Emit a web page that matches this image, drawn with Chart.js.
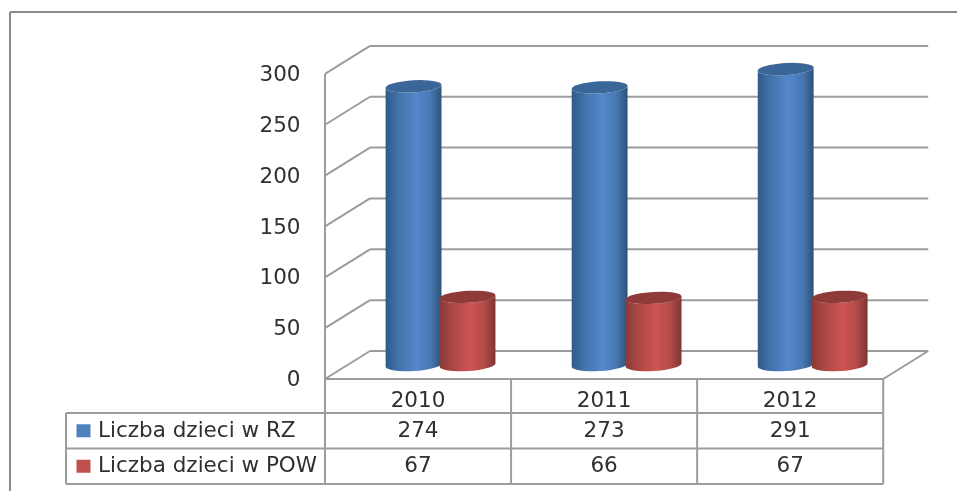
<!DOCTYPE html>
<html lang="pl">
<head>
  <meta charset="UTF-8" />
  <title>Liczba dzieci</title>
  <script src="https://cdn.jsdelivr.net/npm/chart.js"></script>
  <style>
    html, body { margin: 0; padding: 0; background: #fff; overflow: hidden; }
    #wrap { position: relative; width: 957px; height: 491px; }
    canvas { filter: blur(0.6px); }
  </style>
</head>
<body>
  <div id="wrap"><canvas id="wykres" width="957" height="491"></canvas></div>
  <script>
    const years = ['2010', '2011', '2012'];
    const seriesNames = ['Liczba dzieci w RZ', 'Liczba dzieci w POW'];
    const rzValues = [274, 273, 291];
    const powValues = [67, 66, 67];
    const yTicks = [0, 50, 100, 150, 200, 250, 300];

    const blue = { swatch: '#4f81bd', top: '#3b6798', stops: ['#2f5a8a', '#4475ac', '#5487cc', '#4878b2', '#2c5278'] };
    const red = { swatch: '#c0504d', top: '#8e3a38', stops: ['#8a3a38', '#ad4946', '#cd5451', '#b34b48', '#7f3533'] };
    const looks = [blue, red];

    // half of the depth of the 3d box, the scales sit in the middle of it
    const depthX = 22.5;
    const depthY = 14;
    const lineCol = '#9c9c9c';
    const textCol = '#303030';
    const fontSize = 21.5;
    const font = fontSize + 'px "DejaVu Sans"';
    const tableLeft = 66;
    const rowLines = [413, 448.5, 484];

    function line(ctx, x1, y1, x2, y2) {
      ctx.beginPath();
      ctx.moveTo(x1, y1);
      ctx.lineTo(x2, y2);
      ctx.stroke();
    }

    const box3d = {
      id: 'box3d',
      beforeDatasetsDraw(chart) {
        const { ctx, chartArea, scales } = chart;
        const left = chartArea.left - depthX;
        const right = chartArea.right - depthX;
        ctx.save();
        ctx.strokeStyle = lineCol;
        ctx.lineWidth = 2;
        scales.y.ticks.forEach(t => {
          const p = scales.y.getPixelForValue(t.value);
          line(ctx, left, p + depthY, left + 2 * depthX, p - depthY);
          line(ctx, left + 2 * depthX, p - depthY, right + 2 * depthX, p - depthY);
        });
        const p0 = scales.y.getPixelForValue(0);
        line(ctx, right, p0 + depthY, right + 2 * depthX, p0 - depthY);
        ctx.restore();
      }
    };

    function cylinder(ctx, bar, look) {
      const rx = bar.width / 2 + 1;
      const ry = 6;
      const tilt = -0.06;
      const g = ctx.createLinearGradient(bar.x - rx, 0, bar.x + rx, 0);
      [0, 0.25, 0.55, 0.8, 1].forEach((s, i) => g.addColorStop(s, look.stops[i]));
      ctx.fillStyle = g;
      ctx.beginPath();
      ctx.ellipse(bar.x, bar.y, rx, ry, tilt, Math.PI, 0, true);
      ctx.ellipse(bar.x, bar.base, rx, ry, tilt, 0, Math.PI, false);
      ctx.closePath();
      ctx.fill();
      ctx.fillStyle = look.top;
      ctx.beginPath();
      ctx.ellipse(bar.x, bar.y, rx, ry, tilt, 0, Math.PI * 2);
      ctx.fill();
    }

    const cylinders = {
      id: 'cylinders',
      afterDatasetsDraw(chart) {
        const { ctx } = chart;
        chart.data.datasets.forEach((ds, i) => {
          chart.getDatasetMeta(i).data.forEach(bar => {
            cylinder(ctx, bar.getProps(['x', 'y', 'base', 'width'], true), looks[i]);
          });
        });
      }
    };

    const dataTable = {
      id: 'dataTable',
      afterDraw(chart) {
        const { ctx, chartArea, scales } = chart;
        const left = chartArea.left - depthX;
        const right = chartArea.right - depthX;
        const step = (right - left) / years.length;
        const top = scales.y.getPixelForValue(0) + depthY;
        const bottom = rowLines[rowLines.length - 1];
        ctx.save();
        ctx.lineWidth = 2;
        // outer frame of the picture, open on the right
        ctx.strokeStyle = '#8a8a8a';
        line(ctx, 10, 12, 957, 12);
        line(ctx, 10, 12, 10, 491);
        ctx.strokeStyle = lineCol;
        line(ctx, left, scales.y.getPixelForValue(300) + depthY, left, bottom);
        line(ctx, left, top, right, top);
        for (let i = 1; i <= years.length; i++) {
          line(ctx, left + i * step, top, left + i * step, bottom);
        }
        rowLines.forEach(y => line(ctx, tableLeft, y, right, y));
        line(ctx, tableLeft, rowLines[0], tableLeft, bottom);

        ctx.font = font;
        ctx.textBaseline = 'middle';
        chart.data.datasets.forEach((ds, r) => {
          const mid = (rowLines[r] + rowLines[r + 1]) / 2 + 0.5;
          ctx.fillStyle = looks[r].swatch;
          ctx.fillRect(tableLeft + 10.5, mid - 7, 14, 13);
          ctx.fillStyle = textCol;
          ctx.textAlign = 'left';
          ctx.fillText(ds.label, tableLeft + 32, mid);
          ctx.textAlign = 'center';
          ds.data.forEach((v, c) => {
            ctx.fillText(String(v), left + (c + 0.5) * step, mid);
          });
        });
        ctx.restore();
      }
    };

    new Chart(document.getElementById('wykres'), {
      type: 'bar',
      data: {
        labels: years,
        datasets: [
          { label: seriesNames[0], data: rzValues, backgroundColor: 'transparent' },
          { label: seriesNames[1], data: powValues, backgroundColor: 'transparent' }
        ]
      },
      options: {
        responsive: false,
        animation: false,
        datasets: { bar: { categoryPercentage: 0.58, barPercentage: 1 } },
        layout: { padding: { top: 58.7, right: 51.3, bottom: 0, left: 0 } },
        plugins: { legend: { display: false }, tooltip: { enabled: false } },
        scales: {
          x: {
            afterFit(scale) { scale.height = 126; },
            grid: { display: false, drawTicks: false },
            border: { display: false },
            ticks: { color: textCol, font: { family: 'DejaVu Sans', size: fontSize }, padding: 24, labelOffset: -depthX, maxRotation: 0 }
          },
          y: {
            min: 0,
            max: 300,
            afterFit(scale) { scale.width = 347.5; },
            afterBuildTicks(scale) { scale.ticks = yTicks.map(v => ({ value: v })); },
            grid: { display: false, drawTicks: false },
            border: { display: false },
            ticks: { color: textCol, font: { family: 'DejaVu Sans', size: fontSize }, padding: 47, labelOffset: depthY + 1.5 }
          }
        }
      },
      plugins: [box3d, cylinders, dataTable]
    });
  </script>
</body>
</html>
